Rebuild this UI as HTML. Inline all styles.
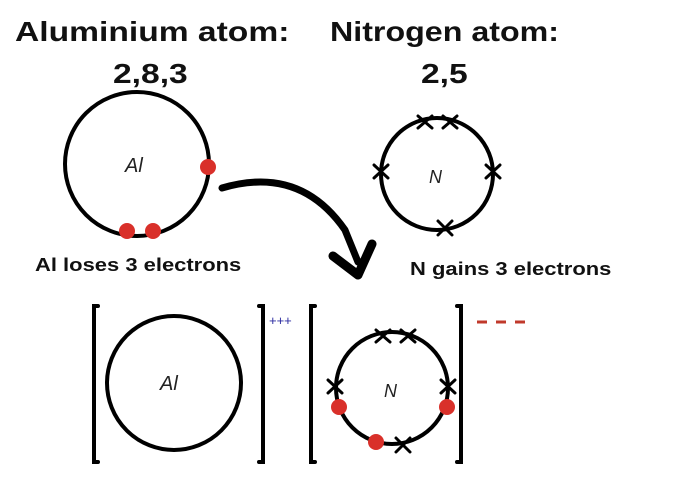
<!DOCTYPE html>
<html><head><style>
body{margin:0;width:692px;height:498px;background:#fff;overflow:hidden;position:relative;font-family:"Liberation Sans",sans-serif}
.t{position:absolute;font-weight:bold;color:#111;white-space:nowrap;transform-origin:0 0}
</style></head><body>
<div class="t" style="left:15px;top:16px;font-size:28px;transform:scaleX(1.2)">Aluminium atom:</div>
<div class="t" style="left:113px;top:58px;font-size:28px;transform:scaleX(1.2)">2,8,3</div>
<div class="t" style="left:330px;top:16px;font-size:28px;transform:scaleX(1.15)">Nitrogen atom:</div>
<div class="t" style="left:421px;top:58px;font-size:28px;transform:scaleX(1.2)">2,5</div>
<div class="t" style="left:35px;top:255px;font-size:18px;transform:scaleX(1.22)">Al loses 3 electrons</div>
<div class="t" style="left:410px;top:259px;font-size:18px;transform:scaleX(1.22)">N gains 3 electrons</div>
<svg width="692" height="498" style="position:absolute;left:0;top:0" font-family="Liberation Sans, sans-serif">
<g fill="none" stroke="#000" stroke-width="4" stroke-linecap="round">
<circle cx="137" cy="164" r="72"/>
<circle cx="437" cy="174" r="56"/>
<circle cx="174" cy="383" r="67"/>
<circle cx="392" cy="388" r="56"/>
<path d="M98 306 H94 V462 H98"/>
<path d="M259 306 H263 V462 H259"/>
<path d="M315 306 H311 V462 H315"/>
<path d="M457 306 H461 V462 H457"/>
</g>
<g stroke="#000" stroke-width="3" stroke-linecap="round">
<path d="M418 116 L432 128 M418 128 L432 116 M443 116 L457 128 M443 128 L457 116"/>
<path d="M374 165 L388 178 M374 178 L388 165 M486 165 L500 178 M486 178 L500 165"/>
<path d="M438 221 L452 235 M438 235 L452 221"/>
<path d="M376 330 L390 342 M376 342 L390 330 M401 330 L415 342 M401 342 L415 330"/>
<path d="M328 380 L342 393 M328 393 L342 380 M441 380 L455 393 M441 393 L455 380"/>
<path d="M396 438 L410 452 M396 452 L410 438"/>
</g>
<g fill="#d9302a">
<circle cx="208" cy="167" r="8"/><circle cx="127" cy="231" r="8"/><circle cx="153" cy="231" r="8"/>
<circle cx="339" cy="407" r="8"/><circle cx="447" cy="407" r="8"/><circle cx="376" cy="442" r="8"/>
</g>
<text x="125" y="172" font-size="20" font-style="italic" fill="#222">Al</text>
<text x="429" y="183" font-size="18" font-style="italic" fill="#222">N</text>
<text x="160" y="390" font-size="20" font-style="italic" fill="#222">Al</text>
<text x="384" y="397" font-size="18" font-style="italic" fill="#222">N</text>
<text x="269" y="325" font-size="13" fill="#2a2aa0">+++</text>
<g stroke="#c0392b" stroke-width="3"><path d="M477 322 H487 M496 322 H506 M515 322 H525"/></g>
<path d="M222 188 Q300 165 345 230 L358 262" fill="none" stroke="#000" stroke-width="7" stroke-linecap="round"/>
<path d="M333 256 L358 275 L372 244" fill="none" stroke="#000" stroke-width="9" stroke-linecap="round" stroke-linejoin="round"/>
</svg>
</body></html>
